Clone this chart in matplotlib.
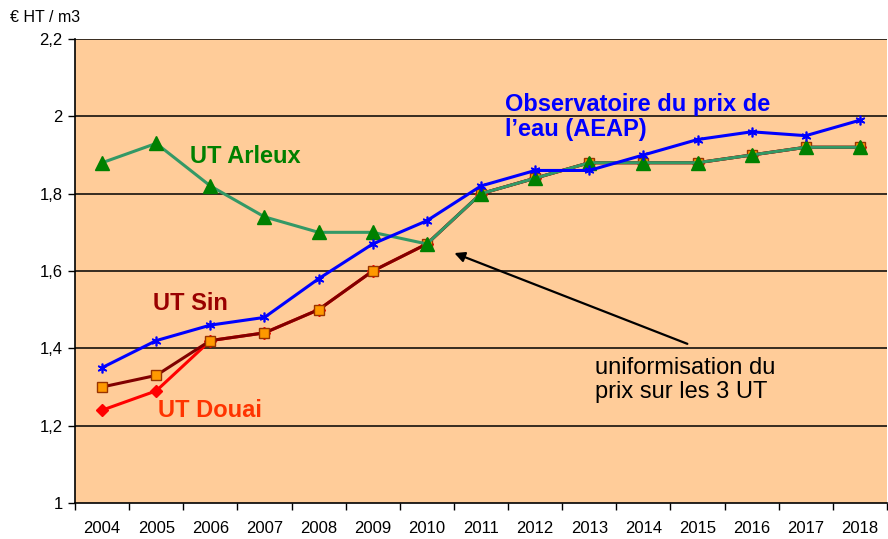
import matplotlib.pyplot as plt
import numpy as np

plt.rcParams['font.family'] = ['Liberation Sans', 'DejaVu Sans']

# Data
years = ['2004', '2005', '2006', '2007', '2008', '2009', '2010', '2011',
         '2012', '2013', '2014', '2015', '2016', '2017', '2018']
aeap = [1.35, 1.42, 1.46, 1.48, 1.58, 1.67, 1.73, 1.82, 1.86, 1.86, 1.90, 1.94, 1.96, 1.95, 1.99]
ut_sin = [1.30, 1.33, 1.42, 1.44, 1.50, 1.60, 1.67, 1.80, 1.84, 1.88, 1.88, 1.88, 1.90, 1.92, 1.92]
ut_douai = [1.24, 1.29, 1.42, 1.44, 1.50, 1.60, 1.67, 1.80, 1.84, 1.88, 1.88, 1.88, 1.90, 1.92, 1.92]
ut_arleux = [1.88, 1.93, 1.82, 1.74, 1.70, 1.70, 1.67, 1.80, 1.84, 1.88, 1.88, 1.88, 1.90, 1.92, 1.92]
y_ticks = [1, 1.2, 1.4, 1.6, 1.8, 2, 2.2]
y_labels = ['1', '1,2', '1,4', '1,6', '1,8', '2', '2,2']

x = np.arange(len(years))

fig = plt.figure(figsize=(8.88, 5.39), dpi=100)
ax = fig.add_axes([75 / 888, 1 - 503 / 539, (887 - 75) / 888, (503 - 39) / 539])
ax.set_facecolor('#FFCC99')

# Grid lines
for v in y_ticks[1:]:
    ax.axhline(v, color='black', lw=1.1, zorder=1)

ax.plot(x, ut_douai, color='#FF0000', lw=2.2, marker='D', ms=6,
        mfc='#FF0000', mec='#FF0000', zorder=2)
ax.plot(x, ut_sin, color='#800000', lw=2.2, marker='s', ms=7,
        mfc='#FF9900', mec='#993300', mew=1, zorder=3)
ax.plot(x, ut_arleux, color='#339966', lw=2.2, marker='^', ms=10,
        mfc='#008000', mec='#008000', zorder=4)
ax.plot(x, aeap, color='#0000FF', lw=2.2, marker=(6, 2, 0), ms=7,
        mec='#0000FF', mew=1.2, zorder=5)

ax.set_xlim(-0.5, len(years) - 0.5)
ax.set_ylim(1, 2.2)
ax.set_xticks(np.arange(-0.5, len(years), 1))
ax.set_xticklabels([])
ax.set_xticks(x, minor=True)
ax.set_xticklabels(years, minor=True, fontsize=12)
ax.tick_params(axis='x', which='minor', length=0, pad=13)
ax.tick_params(axis='x', which='major', length=5, width=1, direction='out')
ax.set_yticks(y_ticks)
ax.set_yticklabels(y_labels, fontsize=12)
ax.tick_params(axis='y', length=5, width=1, direction='out', pad=4)

for s in ['left', 'bottom']:
    ax.spines[s].set_linewidth(1.2)
ax.spines['top'].set_visible(False)
ax.spines['right'].set_visible(False)

fig.text(10 / 888, 1 - 18 / 539, '€ HT / m3', fontsize=11.5, va='center', ha='left')

ax.text(7.44, 1.998, "Observatoire du prix de\nl’eau (AEAP)", color='#0000FF',
        fontsize=17, fontweight='bold', va='center', ha='left', linespacing=1.1)
ax.text(1.62, 1.895, 'UT Arleux', color='#008000', fontsize=17, fontweight='bold',
        va='center', ha='left')
ax.text(0.94, 1.517, 'UT Sin', color='#990000', fontsize=17, fontweight='bold',
        va='center', ha='left')
ax.text(1.03, 1.24, 'UT Douai', color='#FF3300', fontsize=17, fontweight='bold',
        va='center', ha='left')
ax.text(9.1, 1.318, 'uniformisation du\nprix sur les 3 UT', color='black',
        fontsize=17, va='center', ha='left', linespacing=1.1)
ax.annotate('', xy=(6.46, 1.649), xytext=(10.86, 1.409),
            arrowprops=dict(arrowstyle='-|>', color='black', lw=1.6,
                            mutation_scale=15))

fig.savefig('out.png', dpi=100, facecolor='white')
